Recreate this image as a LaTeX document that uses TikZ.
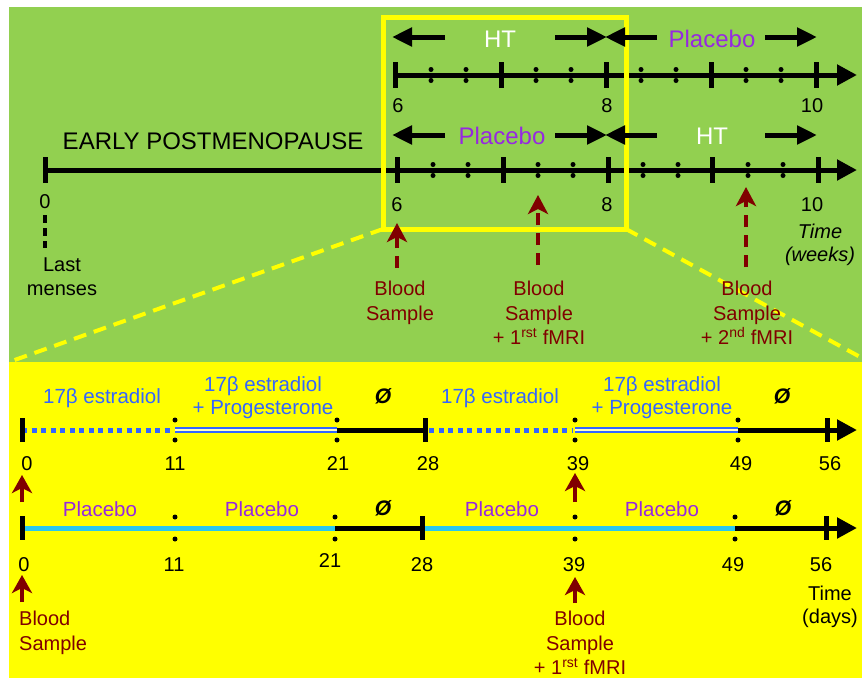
\documentclass[tikz,border=0pt]{standalone}
\usepackage{fontspec}
\setmainfont{Liberation Sans}
\usetikzlibrary{positioning, arrows.meta}

\definecolor{bggreen}{RGB}{146,208,80}
\definecolor{bgyellow}{RGB}{255,255,0}
\definecolor{bred}{RGB}{128,0,0}
\definecolor{eblue}{RGB}{51,102,255}
\definecolor{pviolet}{RGB}{150,40,225}
\definecolor{pcyan}{RGB}{40,200,240}

\begin{document}
\begin{tikzpicture}[x=1pt, y=-1pt,
    axis/.style={line width=5pt},
    axisend/.style={line width=5pt, -{Triangle[length=20pt, width=20pt]}},
    major/.style={line width=5pt},
    phasearr/.style={line width=5pt, -{Triangle[length=20pt, width=18pt]}},
    num/.style={font=\fontsize{20}{24}\selectfont, inner sep=0pt, anchor=base},
    phase/.style={font=\fontsize{24}{28}\selectfont, inner sep=0pt, anchor=base},
    treat/.style={font=\fontsize{20.5}{23}\selectfont, inner sep=0pt, anchor=base, text=eblue, align=center},
    plac/.style={font=\fontsize{20.5}{23}\selectfont, inner sep=0pt, anchor=base, text=pviolet},
    nul/.style={font=\fontsize{21}{24}\selectfont\bfseries\itshape, inner sep=0pt, anchor=base},
    sample/.style={font=\fontsize{20}{24.5}\selectfont, inner sep=0pt, text=bred, align=center, anchor=north},
    samplearr/.style={bred, line width=4pt, dash pattern=on 12pt off 8pt, -{Stealth[length=19pt, width=20pt, inset=5pt]}},
    shortarr/.style={bred, line width=3.5pt, -{Stealth[length=18pt, width=20pt, inset=5pt]}},
    mensline/.style={black, line width=4pt, dash pattern=on 8pt off 5pt},
    zoombox/.style={bgyellow, line width=5pt},
    zoomline/.style={bgyellow, line width=4pt, dash pattern=on 13pt off 8pt},
    estr/.style={eblue, line width=5pt, dash pattern=on 5pt off 4.5pt},
    combo/.style={eblue, line width=1.3pt, double=bgyellow!25!white, double distance=2.5pt},
    plline/.style={pcyan, line width=5pt}
]

% Panels
\useasboundingbox (0,0) rectangle (862,678);
\fill[bggreen] (9,7) rectangle (862,362);
\fill[bgyellow] (9,362) rectangle (862,678);

% Zoom lines
\draw[zoomline] (383,229) -- (9,362);
\draw[zoomline] (626,229) -- (862,358);

% Weeks, first arm
\draw[axisend] (395,75) -- (857,75);
\foreach \x in {395,501,606,711,816} \draw[major] (\x,62) -- (\x,88);
\foreach \x in {431,466,536,571,641,676,746,781} {
    \fill (\x,69.5) circle (2.5pt);
    \fill (\x,80.5) circle (2.5pt);
}
\node[num] (wa6) at (398,112) {6};
\node[num] (wa8) at (607,112) {8};
\node[num] (wa10) at (812,112) {10};

% Weeks, second arm
\draw[axisend] (45,170) -- (857,170);
\foreach \x in {45,397,503,608,712,818} \draw[major] (\x,157) -- (\x,183);
\foreach \x in {433,468,538,573,643,678,748,783} {
    \fill (\x,164.5) circle (2.5pt);
    \fill (\x,175.5) circle (2.5pt);
}
\node[num] (wb0) at (45,208) {0};
\node[num] (wb6) at (397,211) {6};
\node[num] (wb8) at (607,211) {8};
\node[num] (wb10) at (812,211) {10};
\node[phase] (early) at (213,149) {EARLY POSTMENOPAUSE};
\node[num, anchor=north, align=center] (menses) at (62,258) {Last\\menses};
\coordinate (m0) at (45,215);
\coordinate (m1) at (45,248);
\draw[mensline] (m0) -- (m1);
\node[num, anchor=north, align=center, font=\fontsize{20}{23}\selectfont\itshape] (weeks) at (820,224) {Time\\(weeks)};

% Zoom box
\draw[zoombox] (383,17.5) rectangle (626,229);

% Phases
\node[phase, text=white] (ht1) at (500,47) {HT};
\node[phase, text=pviolet] (pl1) at (712,47) {Placebo};
\draw[phasearr] (445,37) -- (392,37);
\draw[phasearr] (555,37) -- (607,37);
\draw[phasearr] (657,37) -- (605,37);
\draw[phasearr] (765,37) -- (817,37);
\node[phase, text=pviolet] (pl2) at (502,144) {Placebo};
\node[phase, text=white] (ht2) at (712,144) {HT};
\draw[phasearr] (445,135) -- (392,135);
\draw[phasearr] (555,135) -- (607,135);
\draw[phasearr] (657,135) -- (605,135);
\draw[phasearr] (765,135) -- (817,135);

% Blood samples (weeks)
\node[sample] (bs1) at (400,281) {Blood\\Sample};
\node[sample] (bs2) at (539,281) {Blood\\Sample\\+ 1\textsuperscript{rst} fMRI};
\node[sample] (bs3) at (747,281) {Blood\\Sample\\+ 2\textsuperscript{nd} fMRI};
\coordinate (s1) at (397,223);
\coordinate (s2) at (538,195);
\coordinate (s3) at (746,187);
\draw[samplearr] (397,268) -- (s1);
\draw[samplearr] (538,265) -- (s2);
\draw[samplearr] (746,267) -- (s3);

% Days, hormone arm
\draw[estr] (22,430) -- (173,430);
\draw[combo] (175,430) -- (337,430);
\draw[axis] (337,430) -- (425,430);
\draw[estr] (429,430) -- (573,430);
\draw[combo] (575,430) -- (738,430);
\draw[axisend] (738,430) -- (857,430);
\foreach \x in {22,425,827} \draw[major] (\x,418) -- (\x,442);
\foreach \x in {175,337,575,738} {
    \fill (\x,420) circle (2.5pt);
    \fill (\x,440) circle (2.5pt);
}
\node[treat] (e1) at (102,403) {17β estradiol};
\node[treat, anchor=north] (ep1) at (263,376) {17β estradiol\\+ Progesterone};
\node[nul] (n1) at (383,403) {Ø};
\node[treat] (e2) at (500,403) {17β estradiol};
\node[treat, anchor=north] (ep2) at (662,376) {17β estradiol\\+ Progesterone};
\node[nul] (n2) at (782,403) {Ø};
\foreach \x/\d in {27/0,175/11,338/21,428/28,578/39,741/49,830/56}
    \node[num] (da\d) at (\x,470) {\d};

% Days, placebo arm
\draw[plline] (22,528) -- (335,528);
\draw[axis] (335,528) -- (422,528);
\draw[plline] (422,528) -- (735,528);
\draw[axisend] (735,528) -- (857,528);
\foreach \x in {22,422,826} \draw[major] (\x,516) -- (\x,540);
\foreach \x in {175,335,575,735} {
    \fill (\x,517) circle (2.5pt);
    \fill (\x,539) circle (2.5pt);
}
\node[plac] (p1) at (100,516) {Placebo};
\node[plac] (p2) at (262,516) {Placebo};
\node[nul] (n3) at (383,515) {Ø};
\node[plac] (p3) at (502,516) {Placebo};
\node[plac] (p4) at (662,516) {Placebo};
\node[nul] (n4) at (783,515) {Ø};
\foreach \x/\d in {24/0,174/11,574/39,733/49,821/56}
    \node[num] (db\d) at (\x,571) {\d};
\node[num] (db21) at (330,567) {21};
\node[num] (db28) at (422,571) {28};
\node[num, anchor=north, align=center, font=\fontsize{20}{23}\selectfont] (days) at (830,586) {Time\\(days)};

% Blood samples (days)
\coordinate (sa0) at (22,475);
\coordinate (sa39) at (575,473);
\coordinate (sb0) at (22,575);
\coordinate (sb39) at (575,577);
\draw[shortarr] (22,502) -- (sa0);
\draw[shortarr] (575,502) -- (sa39);
\draw[shortarr] (22,602) -- (sb0);
\draw[shortarr] (575,603) -- (sb39);
\node[sample, anchor=north west, align=left] (bs4) at (19,611) {Blood\\Sample};
\node[sample] (bs5) at (580,611) {Blood\\Sample\\+ 1\textsuperscript{rst} fMRI};

\end{tikzpicture}
\end{document}
